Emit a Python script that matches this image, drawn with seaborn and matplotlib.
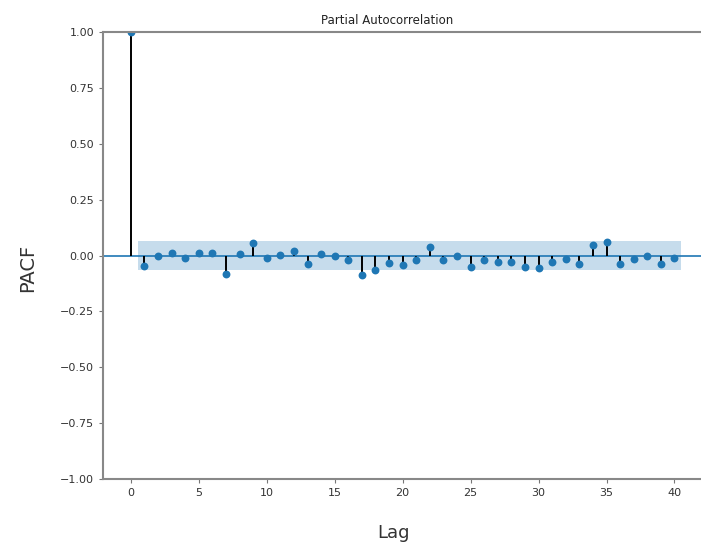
"""PACF grafik - rekonstrukcija."""

import matplotlib
matplotlib.use("Agg")

import matplotlib.pyplot as plt
import numpy as np
import pandas as pd
import seaborn as sns

sns.set_style("ticks")
plt.rcParams["font.family"] = ["DejaVu Sans"]

lags = list(range(0, 41))
pacf_vals = [1.0,
             -0.045, -0.003, 0.012, -0.012, 0.012, 0.012, -0.084, 0.007, 0.055, -0.009,
             0.003, 0.018, -0.037, 0.007, -0.003, -0.022, -0.087, -0.067, -0.034, -0.042,
             -0.022, 0.037, -0.022, 0.000, -0.052, -0.018, -0.030, -0.030, -0.052, -0.057,
             -0.030, -0.016, -0.037, 0.045, 0.060, -0.037, -0.015, 0.000, -0.039, -0.013]
conf = 0.066
y_ticks = [-1.0, -0.75, -0.5, -0.25, 0.0, 0.25, 0.5, 0.75, 1.0]
x_ticks = [0, 5, 10, 15, 20, 25, 30, 35, 40]

df = pd.DataFrame({"Lag": lags, "PACF": pacf_vals})

fig = plt.figure(figsize=(7.01, 5.43), dpi=100)
ax = fig.add_axes([103 / 701, 1 - 479 / 543, 598 / 701, 447 / 543])

# interval poverenja oko nule
band_x = np.array([0.5, 40.5])
ax.fill_between(band_x, -conf, conf, color="#1f77b4", alpha=0.25, lw=0)
ax.axhline(0, color="#1f77b4", lw=1.2)
ax.vlines(df["Lag"], 0, df["PACF"], color="black", lw=1.4)
sns.scatterplot(data=df, x="Lag", y="PACF", color="#1f77b4", s=32,
                edgecolor="#1f77b4", linewidth=0, ax=ax, zorder=3)

ax.set_xlim(-2.05, 41.95)
ax.set_ylim(-1.0, 1.0)
ax.set_xticks(x_ticks)
ax.set_yticks(y_ticks)
ax.set_yticklabels([f"{v:.2f}".replace("-", "\u2212") for v in y_ticks])
ax.tick_params(labelsize=8, colors="#333333", length=3, color="#777777")
for sp in ax.spines.values():
    sp.set_color("#888888")
    sp.set_linewidth(1.5)
    sp.set_zorder(4)
ax.spines["right"].set_visible(False)

ax.set_title("Partial Autocorrelation", fontsize=8.5, x=(387 - 103) / 598,
             pad=6, color="#222222")
ax.set_xlabel("")
ax.set_ylabel("")
fig.text(393 / 701, 1 - 533 / 543, "Lag", fontsize=13, ha="center", va="center",
         color="#333333")
fig.text(28 / 701, 1 - 268 / 543, "PACF", fontsize=14, ha="center", va="center",
         rotation=90, color="#333333")

fig.savefig("out.png", dpi=100)
plt.close(fig)
